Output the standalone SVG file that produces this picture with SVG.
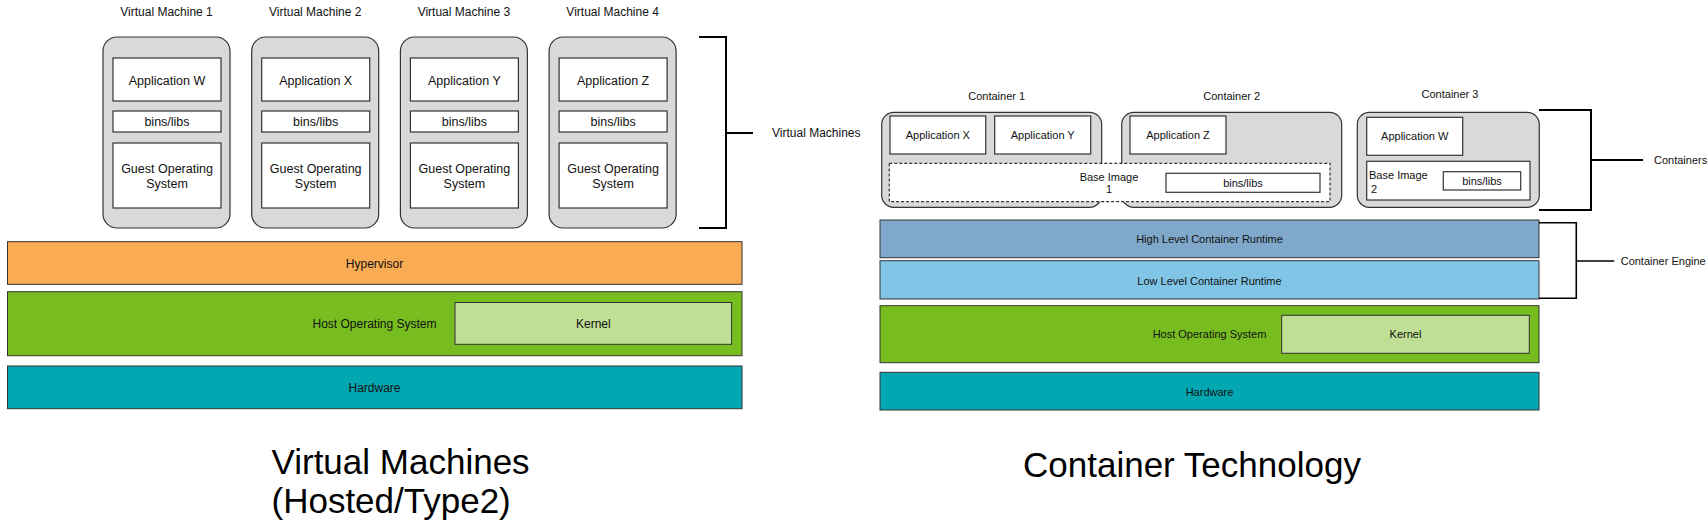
<svg xmlns="http://www.w3.org/2000/svg" width="1707" height="529" viewBox="0 0 1707 529">
<style>
text{font-family:"Liberation Sans",Arial,sans-serif;fill:#111;}
.l{font-size:12px;text-anchor:middle;}
.a{font-size:12.5px;text-anchor:middle;}
.r{font-size:11px;text-anchor:middle;}
.s{font-size:11px;}
.t{font-size:35px;fill:#000;}
.vm{fill:#d9d9d9;stroke:#333;stroke-width:1.2;}
.box{fill:#fff;stroke:#333;stroke-width:1.2;}
.bar{stroke:#333;stroke-width:1;}
.br{fill:none;stroke:#000;stroke-width:2;}
</style>
<rect width="1707" height="529" fill="#fff"/>

<!-- Left: Virtual Machines -->
<g id="vm1">
<text class="l" x="166.5" y="15.5">Virtual Machine 1</text>
<rect class="vm" x="103" y="37" width="127" height="191" rx="14"/>
<rect class="box" x="113" y="58" width="108" height="43"/><text class="a" x="167" y="84.5">Application W</text>
<rect class="box" x="113" y="111" width="108" height="21"/><text class="a" x="167" y="126">bins/libs</text>
<rect class="box" x="113" y="143" width="108" height="65"/><text class="a" x="167" y="172.5">Guest Operating</text><text class="a" x="167" y="187.5">System</text>
</g>
<g id="vm2">
<text class="l" x="315.2" y="15.5">Virtual Machine 2</text>
<rect class="vm" x="251.7" y="37" width="127" height="191" rx="14"/>
<rect class="box" x="261.7" y="58" width="108" height="43"/><text class="a" x="315.7" y="84.5">Application X</text>
<rect class="box" x="261.7" y="111" width="108" height="21"/><text class="a" x="315.7" y="126">bins/libs</text>
<rect class="box" x="261.7" y="143" width="108" height="65"/><text class="a" x="315.7" y="172.5">Guest Operating</text><text class="a" x="315.7" y="187.5">System</text>
</g>
<g id="vm3">
<text class="l" x="463.9" y="15.5">Virtual Machine 3</text>
<rect class="vm" x="400.4" y="37" width="127" height="191" rx="14"/>
<rect class="box" x="410.4" y="58" width="108" height="43"/><text class="a" x="464.4" y="84.5">Application Y</text>
<rect class="box" x="410.4" y="111" width="108" height="21"/><text class="a" x="464.4" y="126">bins/libs</text>
<rect class="box" x="410.4" y="143" width="108" height="65"/><text class="a" x="464.4" y="172.5">Guest Operating</text><text class="a" x="464.4" y="187.5">System</text>
</g>
<g id="vm4">
<text class="l" x="612.6" y="15.5">Virtual Machine 4</text>
<rect class="vm" x="549.1" y="37" width="127" height="191" rx="14"/>
<rect class="box" x="559.1" y="58" width="108" height="43"/><text class="a" x="613.1" y="84.5">Application Z</text>
<rect class="box" x="559.1" y="111" width="108" height="21"/><text class="a" x="613.1" y="126">bins/libs</text>
<rect class="box" x="559.1" y="143" width="108" height="65"/><text class="a" x="613.1" y="172.5">Guest Operating</text><text class="a" x="613.1" y="187.5">System</text>
</g>
<g id="hypervisor">
<rect class="bar" x="7.5" y="241.7" width="734.5" height="42.6" fill="#f9ac53"/>
<text class="l" x="374.5" y="268">Hypervisor</text>
</g>
<g id="host-os-left">
<rect class="bar" x="7.5" y="291.7" width="734.5" height="64" fill="#77bd20"/>
<text class="l" x="374.5" y="328.3">Host Operating System</text>
<rect class="bar" x="455" y="302.5" width="276.6" height="41.8" fill="#bfdf95"/>
<text class="l" x="593.3" y="328.3">Kernel</text>
</g>
<g id="hardware-left">
<rect class="bar" x="7.5" y="366" width="734.5" height="42.7" fill="#02a7b2"/>
<text class="l" x="374.5" y="391.7">Hardware</text>
</g>
<g id="vm-label">
<text class="l" x="772" y="137" style="text-anchor:start">Virtual Machines</text>
</g>
<text class="t" x="271.5" y="474">Virtual Machines</text>
<text class="t" x="271.5" y="513">(Hosted/Type2)</text>

<!-- Right: Containers -->
<g id="container1">
<text class="r" x="996.7" y="100">Container 1</text>
<rect class="vm" x="881.7" y="112.3" width="220" height="95" rx="12"/>
<rect class="box" x="890" y="116" width="95.7" height="38"/><text class="r" x="937.8" y="139">Application X</text>
<rect class="box" x="994.7" y="116" width="96" height="38"/><text class="r" x="1042.7" y="139">Application Y</text>
</g>
<g id="container2">
<text class="r" x="1231.7" y="100">Container 2</text>
<rect class="vm" x="1121.7" y="112.3" width="220" height="95" rx="12"/>
<rect class="box" x="1130" y="116" width="96" height="38"/><text class="r" x="1178" y="139">Application Z</text>
</g>
<g id="base-image1">
<rect x="889.3" y="163.3" width="440.7" height="38.4" fill="#fff" stroke="#333" stroke-width="1.2" stroke-dasharray="3,2"/>
<text class="r" x="1109" y="181">Base Image</text>
<text class="r" x="1109" y="193">1</text>
<rect class="box" x="1166" y="173.3" width="154" height="19"/><text class="r" x="1243" y="186.8">bins/libs</text>
</g>
<g id="container3">
<text class="r" x="1450" y="98">Container 3</text>
<rect class="vm" x="1357.3" y="112.3" width="182" height="95" rx="12"/>
<rect class="box" x="1366.7" y="117.3" width="96" height="38"/><text class="r" x="1414.7" y="140.3">Application W</text>
<rect class="box" x="1366.7" y="161.3" width="163.3" height="38.7"/>
<text class="s" x="1369" y="179">Base Image</text>
<text class="s" x="1371" y="193">2</text>
<rect class="box" x="1443.3" y="171.7" width="77.4" height="18.3"/><text class="r" x="1482" y="184.8">bins/libs</text>
</g>
<g id="high-level-runtime">
<rect class="bar" x="880" y="220" width="659" height="37.7" fill="#7fa8ca"/>
<text class="r" x="1209.5" y="243.3">High Level Container Runtime</text>
</g>
<g id="low-level-runtime">
<rect class="bar" x="880" y="260.7" width="659" height="38.3" fill="#80c4e6"/>
<text class="r" x="1209.5" y="284.7">Low Level Container Runtime</text>
</g>
<g id="host-os-right">
<rect class="bar" x="880" y="305.7" width="659" height="57" fill="#77bd20"/>
<text class="r" x="1209.5" y="338.3">Host Operating System</text>
<rect class="bar" x="1281.7" y="315.3" width="247.6" height="38" fill="#bfdf95"/>
<text class="r" x="1405.5" y="338.3">Kernel</text>
</g>
<g id="hardware-right">
<rect class="bar" x="880" y="372.3" width="659" height="37.7" fill="#02a7b2"/>
<text class="r" x="1209.5" y="395.7">Hardware</text>
</g>
<g id="container-labels">
<text class="s" x="1654" y="164">Containers</text>
<text class="s" x="1620.7" y="265">Container Engine</text>
</g>
<text class="t" x="1023" y="477">Container Technology</text>

<g id="connectors">
<path class="br" d="M699 37 H726 V228 H699 M726 133 H753"/>
<path class="br" d="M1539 110 H1591 V210 H1539 M1591 160 H1643"/>
<path class="br" style="stroke-width:1.6" d="M1539 222.7 H1576.3 V298.3 H1539 M1576.3 261 H1614.3"/>
</g>
</svg>
